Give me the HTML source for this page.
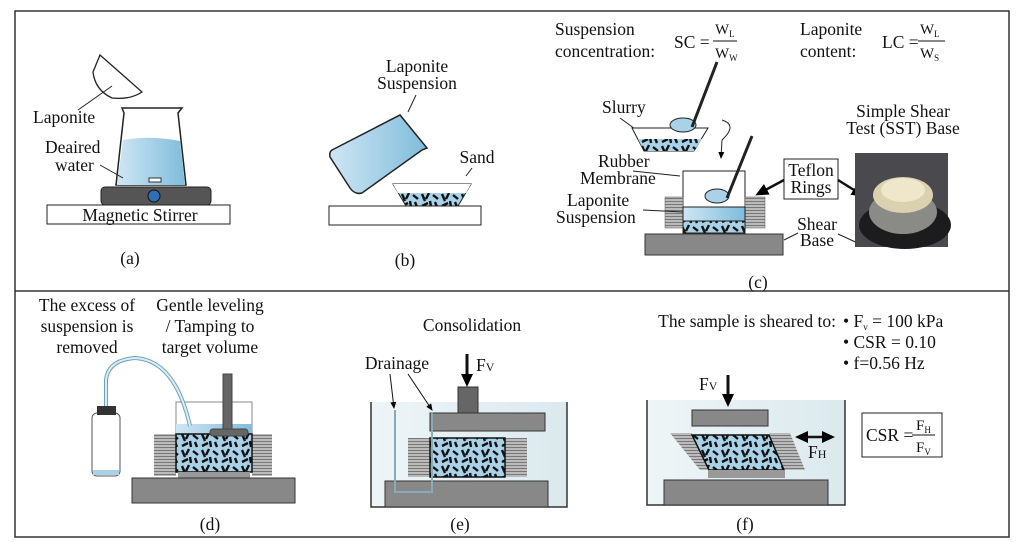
<!DOCTYPE html>
<html><head><meta charset="utf-8"><style>
body{margin:0;background:#fff}
svg{display:block;font-family:"Liberation Serif",serif;}
</style></head><body>
<svg width="1024" height="542" viewBox="0 0 1024 542" xmlns="http://www.w3.org/2000/svg">
<defs>
<linearGradient id="w" x1="0" x2="1"><stop offset="0" stop-color="#cfe6f3"/><stop offset="1" stop-color="#7fbcdb"/></linearGradient>
<linearGradient id="bath" x1="0" x2="1"><stop offset="0" stop-color="#eef5f7"/><stop offset="1" stop-color="#dbe9ee"/></linearGradient>
<pattern id="sand" width="20" height="16" patternUnits="userSpaceOnUse">
<rect width="20" height="16" fill="#a9d2e8"/>
<path d="M2 2l3 7M9 1l-3 6M13 3l5 4M2 14l6-3M15 10l2 5M10 9l1 6" stroke="#111" stroke-width="2.4"/>
</pattern>
<marker id="ah" markerUnits="userSpaceOnUse" markerWidth="14" markerHeight="14" refX="10" refY="7" orient="auto-start-reverse"><path d="M0 1L13 7L0 13z" fill="#000"/></marker>
<marker id="as" markerUnits="userSpaceOnUse" markerWidth="8" markerHeight="8" refX="6" refY="4" orient="auto"><path d="M0 1L7 4L0 7z" fill="#000"/></marker>
<pattern id="rings" width="4" height="3" patternUnits="userSpaceOnUse"><rect width="4" height="3" fill="#bbb"/><rect width="4" height="1" fill="#777"/></pattern>
</defs>
<g fill="none" stroke="#333" stroke-width="1.5">
<rect x="15" y="11" width="994" height="526"/>
<line x1="15" y1="291" x2="1009" y2="291"/>
</g>
<g font-size="17.5" fill="#111">
<!-- (a) -->
<path d="M100 55 L142 92 Q130 100 112 98 Q95 90 93 72 Z" fill="#fff" stroke="#222" stroke-width="1.3"/>
<line x1="78" y1="110" x2="112" y2="86" stroke="#222"/>
<text x="33" y="123">Laponite</text>
<path d="M122 108 L182 108 L178 113 L186 185 L116 185 L124 113 Z" fill="#fff" stroke="#222" stroke-width="1.5"/>
<path d="M123 140 Q150 135 180 141 L185 185 L117 185 Z" fill="url(#w)"/>
<rect x="149" y="178" width="12" height="4" fill="#fff" stroke="#333"/>
<text x="45" y="153">Deaired</text><text x="55" y="171">water</text>
<line x1="100" y1="165" x2="123" y2="178" stroke="#222"/>
<rect x="101" y="187" width="110" height="18" rx="4" fill="#555" stroke="#222"/>
<circle cx="154" cy="196" r="6" fill="#2f6fb5" stroke="#111"/>
<rect x="47" y="205" width="183" height="19" fill="#fff" stroke="#222"/>
<text x="140" y="221" text-anchor="middle">Magnetic Stirrer</text>
<text x="130" y="264" text-anchor="middle">(a)</text>
<!-- (b) -->
<path d="M332 150 L400 115 L427 148 L422 150 L362 193 Q355 195 350 188 L330 157 Q329 152 332 150Z" fill="url(#w)" stroke="#222" stroke-width="1.5"/>
<text x="417" y="72" text-anchor="middle">Laponite</text><text x="417" y="89" text-anchor="middle">Suspension</text>
<line x1="416" y1="95" x2="408" y2="112" stroke="#222"/>
<path d="M393 184 L471 184 L458 206 L406 206 Z" fill="url(#sand)" stroke="#222"/>
<path d="M393 184 L471 184 L466 193 L398 193 Z" fill="#fff"/>
<rect x="329" y="206" width="152" height="19" fill="#fff" stroke="#222"/>
<text x="477" y="163" text-anchor="middle">Sand</text>
<line x1="472" y1="168" x2="466" y2="176" stroke="#222"/>
<text x="405" y="266" text-anchor="middle">(b)</text>
<!-- (c) -->
<text x="555" y="35">Suspension</text><text x="555" y="57">concentration:</text>
<text x="674" y="48">SC =</text>
<text x="715" y="34" font-size="15">W<tspan font-size="9" dy="3">L</tspan></text>
<line x1="713" y1="41" x2="737" y2="41" stroke="#111"/>
<text x="715" y="58" font-size="15">W<tspan font-size="9" dy="3">W</tspan></text>
<text x="800" y="35">Laponite</text><text x="800" y="57">content:</text>
<text x="882" y="48">LC =</text>
<text x="920" y="34" font-size="15">W<tspan font-size="9" dy="3">L</tspan></text>
<line x1="918" y1="41" x2="945" y2="41" stroke="#111"/>
<text x="920" y="58" font-size="15">W<tspan font-size="9" dy="3">S</tspan></text>
<text x="602" y="113">Slurry</text>
<line x1="620" y1="118" x2="646" y2="137" stroke="#222"/>
<path d="M632 128 L708 128 L694 151 L644 151 Z" fill="#fff" stroke="#222"/>
<path d="M638 139 L702 139 L694 151 L644 151 Z" fill="url(#sand)"/>
<ellipse cx="683" cy="125" rx="13" ry="7" fill="#a9d2e8" stroke="#222"/>
<line x1="692" y1="127" x2="717" y2="62" stroke="#222" stroke-width="3"/>
<path d="M722 120 Q738 125 722 140 L721 158" fill="none" stroke="#222" marker-end="url(#as)"/>
<rect x="683" y="171" width="62" height="64" fill="#fff" stroke="#222"/>
<rect x="665" y="197" width="18" height="31" fill="url(#rings)" stroke="#555" stroke-width=".5"/>
<rect x="745" y="197" width="20" height="31" fill="url(#rings)" stroke="#555" stroke-width=".5"/>
<rect x="683" y="207" width="62" height="14" fill="url(#w)" stroke="#222"/>
<rect x="683" y="221" width="62" height="12" fill="url(#sand)" stroke="#222"/>
<ellipse cx="717" cy="196" rx="12" ry="7" fill="#a9d2e8" stroke="#222"/>
<line x1="727" y1="198" x2="752" y2="136" stroke="#222" stroke-width="3"/>
<rect x="645" y="234" width="138" height="21" fill="#888" stroke="#333"/>
<text x="598" y="167">Rubber</text><text x="580" y="184">Membrane</text>
<line x1="633" y1="171" x2="680" y2="176" stroke="#222"/>
<text x="567" y="206">Laponite</text><text x="556" y="223">Suspension</text>
<line x1="643" y1="210" x2="683" y2="212" stroke="#222"/>
<rect x="784" y="159" width="54" height="40" fill="#fff" stroke="#222"/>
<text x="811" y="176" text-anchor="middle">Teflon</text><text x="811" y="193" text-anchor="middle">Rings</text>
<line x1="784" y1="180" x2="758" y2="194" stroke="#111" stroke-width="2.5" marker-end="url(#ah)"/>
<line x1="838" y1="180" x2="862" y2="195" stroke="#111" stroke-width="2.5" marker-end="url(#ah)"/>
<text x="817" y="230" text-anchor="middle">Shear</text><text x="817" y="246" text-anchor="middle">Base</text>
<line x1="798" y1="233" x2="784" y2="240" stroke="#222"/>
<line x1="838" y1="234" x2="862" y2="245" stroke="#222"/>
<rect x="855" y="153" width="93" height="94" fill="#4a4a4e"/>
<ellipse cx="905" cy="225" rx="46" ry="24" fill="#1c1c1e"/>
<ellipse cx="903" cy="212" rx="34" ry="22" fill="#8a8a86"/>
<ellipse cx="903" cy="195" rx="30" ry="18" fill="#d9d1b0"/>
<ellipse cx="903" cy="190" rx="22" ry="12" fill="#eee7cc"/>
<text x="903" y="117" text-anchor="middle">Simple Shear</text><text x="903" y="134" text-anchor="middle">Test (SST) Base</text>
<text x="758" y="288" text-anchor="middle">(c)</text>
<!-- (d) -->
<text x="87" y="311" text-anchor="middle">The excess of</text>
<text x="87" y="332" text-anchor="middle">suspension is</text>
<text x="87" y="353" text-anchor="middle">removed</text>
<text x="210" y="311" text-anchor="middle">Gentle leveling</text>
<text x="210" y="332" text-anchor="middle">/ Tamping to</text>
<text x="210" y="353" text-anchor="middle">target volume</text>
<rect x="176" y="402" width="76" height="68" fill="#fff" stroke="#888"/>
<rect x="154" y="434" width="22" height="42" fill="url(#rings)"/>
<rect x="252" y="434" width="20" height="42" fill="url(#rings)"/>
<rect x="176" y="424" width="76" height="10" fill="url(#w)"/>
<rect x="176" y="434" width="76" height="38" fill="url(#sand)" stroke="#111" stroke-width="1.5"/>
<rect x="178" y="472" width="72" height="6" fill="#999"/>
<rect x="132" y="478" width="163" height="25" fill="#888" stroke="#333"/>
<rect x="223" y="374" width="9" height="58" fill="#666" stroke="#444"/>
<rect x="210" y="429" width="38" height="7" rx="3" fill="#666" stroke="#444"/>
<path d="M106 410 L106 380 Q108 360 135 358 Q175 360 190 426" fill="none" stroke="#6ea3bf" stroke-width="4"/>
<path d="M106 410 L106 380 Q108 360 135 358 Q175 360 190 426" fill="none" stroke="#dbeef6" stroke-width="2"/>
<rect x="92" y="413" width="28" height="63" rx="5" fill="#fff" stroke="#555"/>
<rect x="97" y="406" width="19" height="9" fill="#333"/>
<rect x="93" y="470" width="26" height="5" fill="#a9d2e8"/>
<text x="210" y="530" text-anchor="middle">(d)</text>
<!-- (e) -->
<text x="472" y="331" text-anchor="middle">Consolidation</text>
<path d="M371 402 L371 507 L567 507 L567 402" fill="url(#bath)" stroke="#333" stroke-width="1.5"/>
<rect x="385" y="481" width="163" height="26" fill="#888" stroke="#333"/>
<rect x="408" y="438" width="22" height="39" fill="url(#rings)"/>
<rect x="505" y="438" width="22" height="39" fill="url(#rings)"/>
<rect x="430" y="438" width="75" height="39" fill="url(#sand)" stroke="#111" stroke-width="1.5"/>
<rect x="430" y="413" width="115" height="18" fill="#888" stroke="#333"/>
<rect x="458" y="387" width="20" height="26" fill="#666" stroke="#333"/>
<line x1="467" y1="354" x2="467" y2="384" stroke="#111" stroke-width="3" marker-end="url(#ah)"/>
<text x="476" y="371">F<tspan font-size="12">V</tspan></text>
<text x="397" y="369" text-anchor="middle">Drainage</text>
<path d="M395 410 L395 492 L432 492 L432 412" fill="none" stroke="#8ab" stroke-width="2"/>
<line x1="390" y1="374" x2="394" y2="408" stroke="#111" marker-end="url(#as)"/>
<line x1="408" y1="374" x2="432" y2="410" stroke="#111" marker-end="url(#as)"/>
<text x="460" y="530" text-anchor="middle">(e)</text>
<!-- (f) -->
<text x="836" y="327" text-anchor="end">The sample is sheared to:</text>
<text x="843" y="327">• F<tspan font-size="9" dy="3">v</tspan><tspan dy="-3"> = 100 kPa</tspan></text>
<text x="843" y="348">• CSR = 0.10</text>
<text x="843" y="369">• f=0.56 Hz</text>
<path d="M647 400 L647 505 L845 505 L845 400" fill="url(#bath)" stroke="#333" stroke-width="1.5"/>
<rect x="664" y="480" width="164" height="25" fill="#888" stroke="#333"/>
<path d="M670 433 L692 433 L709 470 L700 470 Z" fill="url(#rings)"/>
<path d="M769 433 L790 433 L805 470 L784 470 Z" fill="url(#rings)"/>
<path d="M692 435 L769 435 L784 470 L709 470 Z" fill="url(#sand)" stroke="#111" stroke-width="1.5"/>
<rect x="708" y="470" width="77" height="8" fill="#999"/>
<rect x="692" y="410" width="76" height="16" fill="#888" stroke="#333"/>
<line x1="728" y1="375" x2="728" y2="404" stroke="#111" stroke-width="3" marker-end="url(#ah)"/>
<text x="699" y="390">F<tspan font-size="12">V</tspan></text>
<line x1="798" y1="437" x2="832" y2="437" stroke="#111" stroke-width="2.5" marker-end="url(#ah)" marker-start="url(#ah)"/>
<text x="808" y="458">F<tspan font-size="12">H</tspan></text>
<rect x="862" y="413" width="80" height="44" fill="#fff" stroke="#222"/>
<text x="866" y="441">CSR =</text>
<text x="916" y="430" font-size="15">F<tspan font-size="9" dy="3">H</tspan></text>
<line x1="912" y1="435" x2="935" y2="435" stroke="#111"/>
<text x="916" y="452" font-size="15">F<tspan font-size="9" dy="3">V</tspan></text>
<text x="745" y="530" text-anchor="middle">(f)</text>
</g>
</svg>
</body></html>
